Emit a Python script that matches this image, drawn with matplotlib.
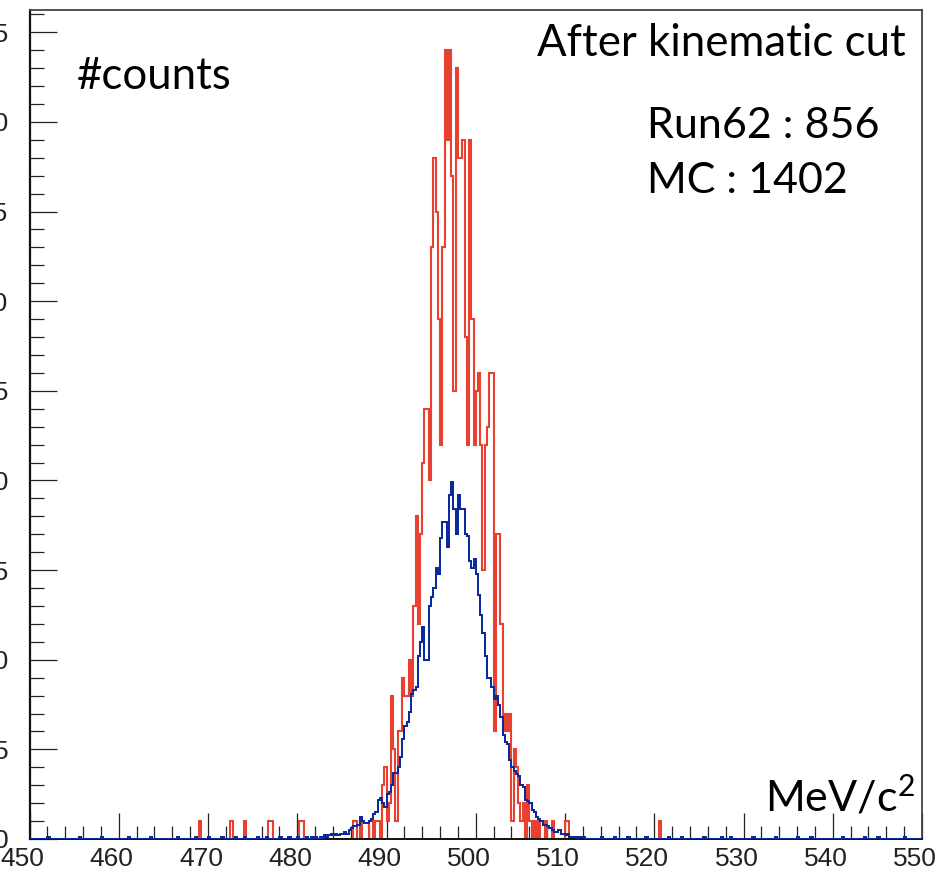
import numpy as np
import matplotlib
matplotlib.use("Agg")
import matplotlib.pyplot as plt
from matplotlib.ticker import MultipleLocator, FixedLocator, FixedFormatter
from matplotlib.transforms import ScaledTranslation

# ---------------- data ----------------
bin_width = 0.25
x_min, x_max = 450.0, 550.0

# Data (Run62), counts per 0.25 MeV bin starting at red_start
red_start = 486.0
red_counts = [0, 1, 1, 0, 1, 0, 0, 0, 1, 1, 0, 1, 1, 0, 3, 4,
              1, 2, 8, 5, 1, 6, 6, 9, 8, 8, 10, 8, 13, 18, 12, 17,
              21, 24, 24, 20, 33, 38, 35, 29, 22, 33, 44, 39, 44, 37, 25, 43,
              38, 38, 39, 28, 22, 39, 29, 22, 25, 26, 22, 15, 22, 23, 26, 26,
              6, 17, 17, 12, 6, 7, 6, 7, 1, 5, 4, 2, 1, 2, 0, 3,
              1, 0, 1, 0, 1, 0, 0, 1, 0, 0, 1, 0, 0, 0, 0, 0, 1, 1]
# isolated data entries far from the peak (bin left edge, count)
red_out_edges = [469.0, 472.5, 474.0, 476.75, 477.0, 480.25, 480.5, 520.5]
red_out_counts = [1, 1, 1, 1, 1, 1, 1, 1]

# MC (normalised), per 0.25 MeV bin starting at blue_start
blue_start = 483.0
blue_values = [0.2, 0.1, 0.2, 0.3, 0.2, 0.3, 0.2, 0.3, 0.3, 0.4, 0.3, 0.5,
               0.6, 0.7, 0.7, 0.8, 1.2, 1.0, 0.9, 0.9, 1.0, 1.1, 1.4, 1.5,
               2.2, 2.3, 2.0, 1.8, 2.5, 2.6, 3.0, 3.7, 3.7, 4.0, 4.6, 5.6,
               6.3, 6.5, 7.1, 8.1, 8.3, 8.5, 10.2, 11.0, 11.8, 10.0, 10.0, 13.0,
               13.5, 14.0, 15.1, 14.8, 16.8, 17.7, 17.7, 16.3, 19.2, 19.9, 18.4, 17.0,
               19.2, 18.4, 18.4, 17.0, 16.9, 15.5, 15.1, 15.6, 14.8, 13.6, 12.5, 11.5,
               10.2, 9.0, 9.0, 8.5, 7.8, 8.0, 7.5, 6.8, 5.8, 5.4, 5.3, 4.4,
               4.0, 3.8, 3.6, 3.5, 3.0, 2.9, 2.2, 2.1, 2.0, 1.6, 1.5, 1.2,
               1.1, 1.0, 0.8, 0.8, 0.7, 0.6, 0.5, 0.4, 0.4, 0.5, 0.3, 0.3,
               0.2, 0.3, 0.1, 0.1, 0.1, 0.0, 0.1, 0.1, 0.1]
# small MC entries in the tails (bin left edge, value)
blue_tail_edges = [452.0, 455.5, 458.0, 461.0, 463.5, 466.5, 468.5, 470.0,
                   471.5, 473.0, 474.0, 475.5, 476.5, 478.0, 479.0, 480.0,
                   481.0, 481.5, 482.0, 482.5, 514.0, 515.5, 517.0, 519.0,
                   521.5, 523.0, 525.5, 527.5, 528.5, 531.0, 533.5, 536.0,
                   537.5, 541.0, 543.5, 545.0, 548.0]
blue_tail_values = [0.1] * len(blue_tail_edges)

x_major = [450, 460, 470, 480, 490, 500, 510, 520, 530, 540, 550]
x_labels = ["450", "460", "470", "480", "490", "500", "510", "520", "530", "540", "550"]
y_major = [0, 5, 10, 15, 20, 25, 30, 35, 40, 45]
y_labels = ["0", "5", "10", "15", "20", "25", "30", "35", "40", "45"]

# ---------------- build histograms ----------------
nb = int(round((x_max - x_min) / bin_width))
edges = np.linspace(x_min, x_max, nb + 1)


def idx(e):
    return int(round((e - x_min) / bin_width))


red = np.zeros(nb)
i0 = idx(red_start)
red[i0:i0 + len(red_counts)] = red_counts
for e, c in zip(red_out_edges, red_out_counts):
    red[idx(e)] = c

blue = np.zeros(nb)
j0 = idx(blue_start)
blue[j0:j0 + len(blue_values)] = blue_values
for e, v in zip(blue_tail_edges, blue_tail_values):
    blue[idx(e)] = v

# ---------------- figure ----------------
plt.rcParams["mathtext.fontset"] = "custom"
plt.rcParams["mathtext.rm"] = "Lato"
plt.rcParams["mathtext.it"] = "Lato:italic"

W, H = 943, 876
fig = plt.figure(figsize=(W / 100, H / 100), dpi=100)
ax = fig.add_axes([29.5 / W, 37 / H, 892.5 / W, 829 / H])

ax.stairs(red, edges, color="#e8412f", linewidth=1.5, zorder=2)
ax.stairs(blue, edges, color="#0b2a9c", linewidth=1.45, zorder=3)

ax.set_xlim(x_min, x_max)
ax.set_ylim(0, 46.24)

tick_font = ["Liberation Sans Narrow", "DejaVu Sans Condensed", "Liberation Sans"]
ax.xaxis.set_major_locator(FixedLocator(x_major))
ax.xaxis.set_major_formatter(FixedFormatter(x_labels))
ax.xaxis.set_minor_locator(MultipleLocator(2))
ax.yaxis.set_major_locator(FixedLocator(y_major))
ax.yaxis.set_major_formatter(FixedFormatter(y_labels))
ax.yaxis.set_minor_locator(MultipleLocator(1))

ax.tick_params(axis="x", which="major", direction="in", length=18.5, width=0.9,
               color="#222222", pad=6, labelsize=19)
ax.tick_params(axis="x", which="minor", direction="in", length=9.2, width=0.9,
               color="#222222")
ax.tick_params(axis="y", which="major", direction="in", length=19.5, width=0.9,
               color="#222222", pad=15, labelsize=19)
ax.tick_params(axis="y", which="minor", direction="in", length=10, width=0.9,
               color="#222222")
shift = ScaledTranslation(-7 / 100, 0, fig.dpi_scale_trans)
for lab in ax.get_xticklabels():
    lab.set_family(tick_font)
    lab.set_color("#222222")
    lab.set_transform(lab.get_transform() + shift)
for lab in ax.get_yticklabels():
    lab.set_family(tick_font)
    lab.set_color("#222222")

ax.spines["left"].set_linewidth(1.6)
ax.spines["left"].set_color("#111111")
ax.spines["bottom"].set_linewidth(1.4)
ax.spines["bottom"].set_color("#111111")
for s in ("top", "right"):
    ax.spines[s].set_linewidth(1.3)
    ax.spines[s].set_color("#444444")

txt_font = ["Lato", "DejaVu Sans"]


def ftext(x, y, s, size):
    fig.text(x / W, 1 - y / H, s, fontsize=size, family=txt_font,
             ha="left", va="baseline", color="black")


ftext(537, 56, "After kinematic cut", 31.5)
ftext(77, 89, "#counts", 31.5)
ftext(647, 138, "Run62 : 856", 31)
ftext(647, 193, "MC : 1402", 31)
ftext(765, 811, r"MeV/c$^{2}$", 31)

fig.savefig("out.png", dpi=100)
